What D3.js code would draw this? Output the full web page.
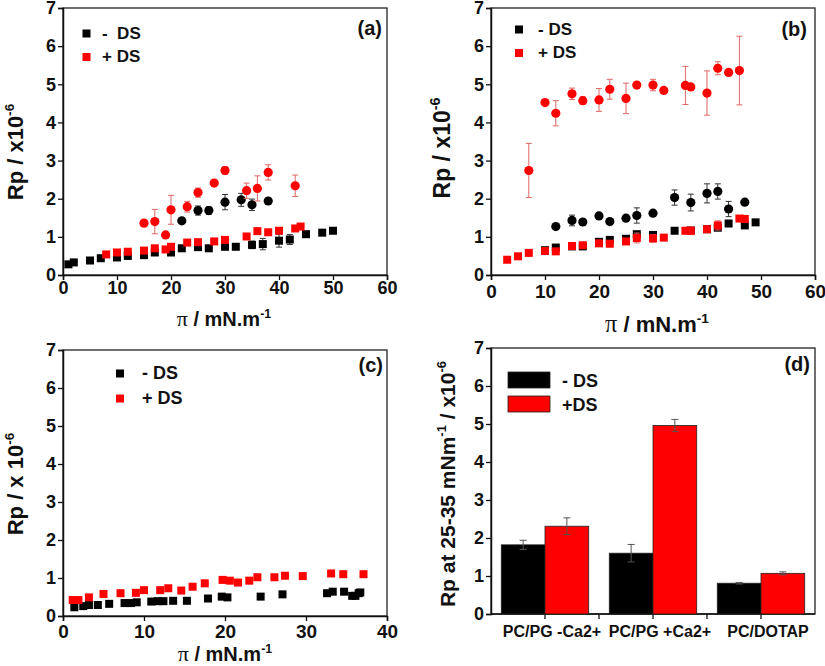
<!DOCTYPE html>
<html><head><meta charset="utf-8">
<script src="https://cdn.jsdelivr.net/npm/d3@7"></script>
<style>
body{margin:0;background:#fff}
text{font-family:"Liberation Sans",Arial,sans-serif;font-weight:bold;fill:#111}
</style>
</head><body><svg id="c" width="825" height="666"></svg>
<script>
// ---------- DATA ----------
// Panel (a): [pi, Rp, err]
const aMinusSq = [[1,0.28],[2,0.33],[5,0.38],[7,0.44],[10,0.46],[12,0.5],[15,0.52],[17,0.59],[20,0.59],[22,0.7],[25,0.73],[27,0.7],[30,0.74],[32,0.74],[35,0.79,0.1],[37,0.81,0.15],[40,0.9,0.17],[42,0.93,0.13],[45,1.07],[48,1.11],[50,1.16]];
const aPlusSq = [[8,0.54],[10,0.59],[12,0.61],[15,0.64],[17,0.7],[19,0.67],[20,0.74],[23,0.85],[25,0.86],[28,0.88],[30,0.92],[34,1.01],[36,1.15],[38,1.12],[40,1.16],[43,1.22],[44,1.27]];
const aMinusCi = [[22,1.42,0.05],[25,1.69,0.12],[27,1.69,0.1],[30,1.91,0.2],[33,1.97,0.17],[35,1.84,0.15],[38,1.94,0.05]];
const aPlusCi = [[15,1.36,0.05],[17,1.4,0.32],[19,1.05,0.05],[20,1.71,0.38],[23,1.79,0.14],[25,2.16,0.12],[28,2.41,0.05],[30,2.74,0.1],[34,2.21,0.2],[36,2.27,0.33],[38,2.69,0.2],[43,2.34,0.28]];
// Panel (b)
const bMinusSq = [[10,0.65],[12,0.72],[15,0.75],[17,0.75],[20,0.87],[22,0.92],[25,0.95],[27,1.07],[30,1.05],[34,1.16],[37,1.17],[40,1.2],[42,1.24],[44,1.35],[47,1.3],[49,1.38]];
const bPlusSq = [[3,0.4],[5,0.49],[7,0.58],[10,0.63],[12,0.62],[15,0.76],[17,0.78],[20,0.83],[22,0.82],[25,0.88],[27,0.97,0.13],[30,0.96,0.1],[32,0.98],[36,1.16],[37,1.16,0.1],[40,1.2],[42,1.3,0.12],[46,1.48],[47,1.47]];
const bMinusCi = [[12,1.27],[15,1.43,0.14],[17,1.39],[20,1.55],[22,1.4],[25,1.49],[27,1.56,0.2],[30,1.62],[34,2.03,0.2],[37,1.9,0.22],[40,2.14,0.25],[42,2.19,0.2],[44,1.73,0.2],[47,1.91]];
const bPlusCi = [[7,2.74,0.71],[10,4.52],[12,4.24,0.33],[15,4.75,0.15],[17,4.57,0.1],[20,4.59,0.3],[22,4.87,0.26],[25,4.63,0.4],[27,4.98],[30,4.98,0.15],[32,4.84],[36,4.97,0.5],[37,4.93],[40,4.77,0.58],[42,5.42,0.17],[44,5.31],[46,5.36,0.9]];
// Panel (c)
const cMinusSq = [[1.4,0.23],[2.5,0.26],[3.2,0.29],[4.3,0.29],[5.7,0.32],[7.6,0.34],[8.4,0.34],[9.1,0.36],[10.9,0.38],[11.7,0.39],[12.4,0.39],[13.6,0.4],[15.3,0.4],[17.9,0.46],[19.6,0.51],[20.3,0.49],[24.4,0.51],[27.1,0.57],[32.6,0.6],[33.3,0.64],[34.7,0.64],[35.7,0.53],[36.1,0.53],[36.5,0.6],[36.7,0.62]];
const cPlusSq = [[1.2,0.42],[1.9,0.42],[3.2,0.49],[5,0.58],[7.1,0.6],[9,0.61],[10,0.68],[12,0.68],[13,0.73],[14.6,0.67],[16,0.77],[17.5,0.86],[19.7,0.95],[20.6,0.93],[21.6,0.88],[23,0.93],[24,1.02],[26.1,1.02],[27.4,1.06],[29.6,1.05],[33.1,1.12],[34.6,1.1],[37.1,1.1]];
// Panel (d)
const dCategories = ["PC/PG -Ca2+","PC/PG +Ca2+","PC/DOTAP"];
const dSeries = ["- DS","+DS"];
const dMinus = [1.82,1.6,0.81];
const dMinusErr = [0.12,0.23,0.02];
const dPlus = [2.31,4.96,1.07];
const dPlusErr = [0.22,0.16,0.04];
// tick values
const yTicks = [0,1,2,3,4,5,6,7];
const xTicks60 = [0,10,20,30,40,50,60];
const xTicks40 = [0,10,20,30,40];

// ---------- STYLE ----------
const RED = "#ff0000", BLACK = "#000000";
const svg = d3.select("#c");

function frame(g, x0, x1, y0, y1){
  g.append("rect").attr("x",x0).attr("y",y1).attr("width",x1-x0).attr("height",y0-y1)
   .attr("fill","none").attr("stroke","#222").attr("stroke-width",1.3);
}
function yAxis(x, y, x0, fs){
  const g = svg.append("g").attr("transform",`translate(${x0},0)`);
  g.call(d3.axisLeft(y).tickValues(d3.range(0.5,7,1)).tickSize(3).tickFormat(""));
  g.call(d3.axisLeft(y).tickValues(yTicks).tickSize(5).tickPadding(2).tickFormat(d3.format("d")));
  g.selectAll("path").attr("stroke","#111").attr("stroke-width",1.5);
  g.selectAll("line").attr("stroke","#111").attr("stroke-width",1.3);
  g.selectAll("text").attr("font-size",fs).attr("font-family","Liberation Sans").attr("font-weight","bold").attr("fill","#111");
}
function xAxis(x, ticks, minor, y0, fs, pad){
  const g = svg.append("g").attr("transform",`translate(0,${y0})`);
  g.call(d3.axisBottom(x).tickValues(minor).tickSize(3).tickFormat(""));
  g.call(d3.axisBottom(x).tickValues(ticks).tickSize(5).tickPadding(pad).tickFormat(d3.format("d")));
  g.selectAll("path").attr("stroke","#111").attr("stroke-width",1.5);
  g.selectAll("line").attr("stroke","#111").attr("stroke-width",1.3);
  g.selectAll("text").attr("font-size",fs).attr("font-family","Liberation Sans").attr("font-weight","bold").attr("fill","#111");
}
function yTitle(x, y, fs, main, sup, sup2, tail){
  const t = svg.append("text").attr("transform",`translate(${x},${y}) rotate(-90)`)
    .attr("text-anchor","middle").attr("font-size",fs);
  t.append("tspan").text(main);
  t.append("tspan").attr("font-size",fs*0.62).attr("dy",-fs*0.42).text(sup);
  if (tail){
    t.append("tspan").attr("dy",fs*0.42).text(tail);
    t.append("tspan").attr("font-size",fs*0.62).attr("dy",-fs*0.42).text(sup2);
  }
}
function xTitle(x, y, fs){
  const t = svg.append("text").attr("x",x).attr("y",y).attr("text-anchor","middle").attr("font-size",fs)
    .attr("xml:space","preserve");
  t.append("tspan").attr("font-family","Liberation Serif").attr("font-weight","normal").attr("font-size",fs*1.1).text("\u03c0");
  t.append("tspan").text(" / mN.m");
  t.append("tspan").attr("font-size",fs*0.62).attr("dy",-fs*0.42).text("-1");
}
function legend(x, y1, y2, tx, fs, labels){
  [[y1,BLACK,labels[0]],[y2,RED,labels[1]]].forEach(([yy,c,l])=>{
    svg.append("rect").attr("x",x-4).attr("y",yy-4).attr("width",8).attr("height",8).attr("fill",c);
    svg.append("text").attr("x",tx).attr("y",yy+5).attr("font-size",fs).style("white-space","pre").text(l);
  });
}
function errBars(g, data, x, y, color, w){
  g.selectAll(null).data(data.filter(d=>d[2])).join("g").each(function(d){
    const s = d3.select(this), cx = x(d[0]);
    s.append("line").attr("x1",cx).attr("x2",cx).attr("y1",y(d[1]-d[2])).attr("y2",y(d[1]+d[2]));
    s.append("line").attr("x1",cx-w).attr("x2",cx+w).attr("y1",y(d[1]-d[2])).attr("y2",y(d[1]-d[2]));
    s.append("line").attr("x1",cx-w).attr("x2",cx+w).attr("y1",y(d[1]+d[2])).attr("y2",y(d[1]+d[2]));
  }).attr("stroke",color).attr("stroke-width",1);
}
function squares(g, data, x, y, color){
  errBars(g, data, x, y, color===RED?"#e06666":"#333", 3);
  g.selectAll(null).data(data).join("rect")
    .attr("x",d=>x(d[0])-4).attr("y",d=>y(d[1])-4).attr("width",8).attr("height",8).attr("fill",color);
}
function circles(g, data, x, y, color){
  errBars(g, data, x, y, color===RED?"#e06666":"#333", 3);
  g.selectAll(null).data(data).join("circle")
    .attr("cx",d=>x(d[0])).attr("cy",d=>y(d[1])).attr("r",4.6).attr("fill",color);
}

// ---------- PANEL (a) ----------
{
  const x = d3.scaleLinear().domain([0,60]).range([63,387]);
  const y = d3.scaleLinear().domain([0,7]).range([275,8]);
  frame(svg, 63, 387, 275, 8);
  xAxis(x, xTicks60, d3.range(5,60,10), 275, 18, 1);
  yAxis(x, y, 63, 18);
  const g = svg.append("g");
  squares(g, aMinusSq, x, y, BLACK);
  squares(g, aPlusSq, x, y, RED);
  circles(g, aMinusCi, x, y, BLACK);
  circles(g, aPlusCi, x, y, RED);
  legend(86.5, 33.5, 57, 102, 17, ["-  DS","+ DS"]);
  svg.append("text").attr("x",382).attr("y",35).attr("text-anchor","end").attr("font-size",20).text("(a)");
  xTitle(224, 326, 20);
  yTitle(23, 152, 22, "Rp / x10", "-6");
}
// ---------- PANEL (b) ----------
{
  const x = d3.scaleLinear().domain([0,60]).range([491,815]);
  const y = d3.scaleLinear().domain([0,7]).range([275,8]);
  frame(svg, 491, 815, 275, 8);
  xAxis(x, xTicks60, d3.range(5,60,10), 275, 19, 5);
  yAxis(x, y, 491, 18);
  const g = svg.append("g");
  squares(g, bMinusSq, x, y, BLACK);
  squares(g, bPlusSq, x, y, RED);
  circles(g, bMinusCi, x, y, BLACK);
  circles(g, bPlusCi, x, y, RED);
  legend(519, 29.5, 53, 538, 17, ["- DS","+ DS"]);
  svg.append("text").attr("x",807).attr("y",36).attr("text-anchor","end").attr("font-size",20).text("(b)");
  xTitle(657, 332, 22);
  yTitle(450, 148, 23, "Rp / x10", "-6");
}
// ---------- PANEL (c) ----------
{
  const x = d3.scaleLinear().domain([0,40]).range([63,387]);
  const y = d3.scaleLinear().domain([0,7]).range([616,350]);
  frame(svg, 63, 387, 616, 350);
  xAxis(x, xTicks40, d3.range(5,40,10), 616, 19, 4);
  yAxis(x, y, 63, 18);
  const g = svg.append("g");
  squares(g, cMinusSq, x, y, BLACK);
  squares(g, cPlusSq, x, y, RED);
  legend(120, 373.5, 398.5, 142, 18, ["- DS","+ DS"]);
  svg.append("text").attr("x",383).attr("y",372).attr("text-anchor","end").attr("font-size",20).text("(c)");
  xTitle(225, 661, 20);
  yTitle(23, 484, 22, "Rp / x 10", "-6");
}
// ---------- PANEL (d) ----------
{
  const x = d3.scaleBand().domain(dCategories).range([491,815]).padding(0);
  const xi = d3.scaleBand().domain(dSeries).range([0,x.bandwidth()]).paddingInner(0).paddingOuter(0.235);
  const y = d3.scaleLinear().domain([0,7]).range([614,348]);
  frame(svg, 491, 815, 614, 348);
  yAxis(null, y, 491, 18);
  const gx = svg.append("g").attr("transform","translate(0,614)");
  gx.append("line").attr("x1",491).attr("x2",815).attr("stroke","#111").attr("stroke-width",1.5);
  const tickPos = dCategories.map(c=>x(c)+x.bandwidth()/2).concat(dCategories.slice(1).map(c=>x(c)));
  gx.selectAll(null).data(tickPos).join("line").attr("x1",d=>d).attr("x2",d=>d).attr("y1",0).attr("y2",5)
    .attr("stroke","#111").attr("stroke-width",1.3);
  gx.selectAll(null).data(dCategories).join("text")
    .attr("x",c=>x(c)+x.bandwidth()/2+7).attr("y",23).attr("text-anchor","middle").attr("font-size",16).text(c=>c);
  const rows = dCategories.map((c,i)=>[
    {c, s:dSeries[0], v:dMinus[i], e:dMinusErr[i], col:"#000"},
    {c, s:dSeries[1], v:dPlus[i], e:dPlusErr[i], col:RED}]).flat();
  const g = svg.append("g");
  g.selectAll(null).data(rows).join("rect")
    .attr("x",d=>x(d.c)+xi(d.s)).attr("width",xi.bandwidth())
    .attr("y",d=>y(d.v)).attr("height",d=>y(0)-y(d.v))
    .attr("fill",d=>d.col).attr("stroke","#222").attr("stroke-width",0.8);
  rows.forEach(d=>{
    const cx = x(d.c)+xi(d.s)+xi.bandwidth()/2;
    const eg = g.append("g").attr("stroke","#555").attr("stroke-width",1);
    eg.append("line").attr("x1",cx).attr("x2",cx).attr("y1",y(d.v-d.e)).attr("y2",y(d.v+d.e));
    eg.append("line").attr("x1",cx-3.5).attr("x2",cx+3.5).attr("y1",y(d.v+d.e)).attr("y2",y(d.v+d.e));
    eg.append("line").attr("x1",cx-3.5).attr("x2",cx+3.5).attr("y1",y(d.v-d.e)).attr("y2",y(d.v-d.e));
  });
  // legend
  [[372,"#000",dSeries[0]],[396,RED,dSeries[1]]].forEach(([yy,c,l])=>{
    svg.append("rect").attr("x",508).attr("y",yy).attr("width",42).attr("height",16).attr("fill",c).attr("stroke","#222").attr("stroke-width",0.8);
    svg.append("text").attr("x",562).attr("y",yy+15).attr("font-size",18).text(l);
  });
  svg.append("text").attr("x",810).attr("y",371).attr("text-anchor","end").attr("font-size",20).text("(d)");
  yTitle(455, 484, 21, "Rp at 25-35 mNm", "-1", "-6", " / x10");
}
</script>
</body></html>
